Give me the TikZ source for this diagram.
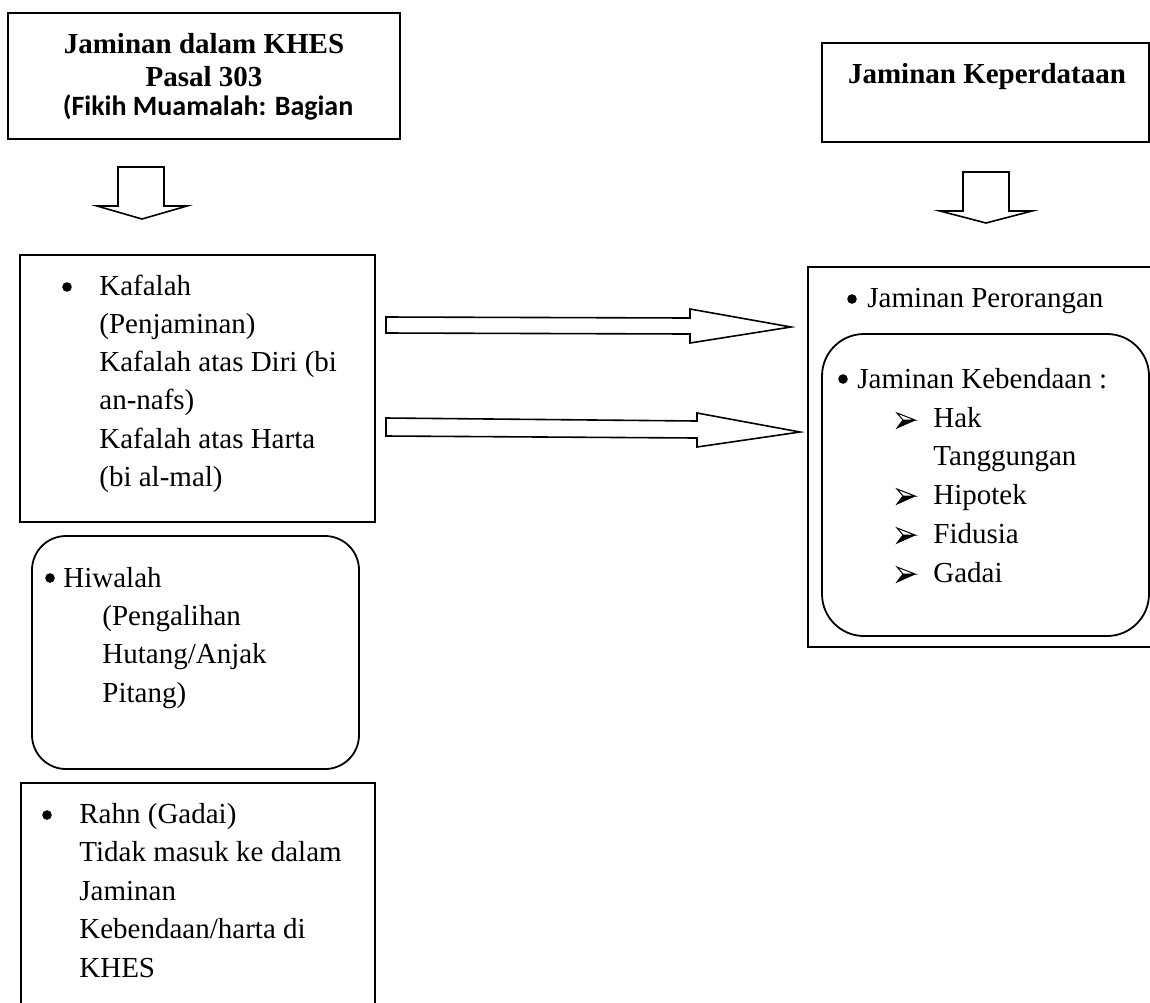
\documentclass[tikz,border=0pt]{standalone}
\usepackage{fontspec}
\setmainfont{Liberation Serif}
\newfontfamily\calfont{Carlito}
\begin{document}
\begin{tikzpicture}[x=0.5pt,y=-0.5pt,
  font=\fontsize{14.5}{17}\selectfont,
  box/.style={line width=0.9pt},
  rbox/.style={line width=0.9pt, rounded corners=17pt},
  bigrbox/.style={line width=0.9pt, rounded corners=21pt},
  blk/.style={line width=0.8pt, line join=miter, fill=white},
  txt/.style={anchor=base west, inner sep=0pt},
  head/.style={anchor=base, inner sep=0pt, font=\fontsize{14.5}{17}\selectfont\bfseries},
  dotr/.style={fill=black},
  arrowb/.pic={
    \draw[line width=0.5pt, line join=miter] (0,0) -- (-18,-7) -- (-12,0) -- cycle;
    \fill (0,0) -- (-12,0) -- (-18,8) -- cycle;
    \draw[line width=0.5pt] (0,0) -- (-18,8) -- (-12,0);
  }]
\useasboundingbox (0,0) rectangle (1150,1002);
\clip (0,0) rectangle (1150,1002);

% ---------- top left box ----------
\draw[box] (8,13) rectangle (400,139);
\node[head] (h1) at (204,53) {Jaminan dalam KHES};
\node[head] (h2) at (204,86) {Pasal 303};
\node[anchor=base, inner sep=0pt, font=\calfont\fontsize{14}{17}\selectfont\bfseries] (h3) at (208,115) {(Fikih Muamalah: Bagian};

% ---------- top right box ----------
\draw[box] (822,43) rectangle (1149,142);
\node[head] (r1) at (987,83) {Jaminan Keperdataan};

% ---------- down arrows ----------
\draw[blk] (118,167) -- (164,167) -- (164,206) -- (187,206) -- (142,219) -- (97,206) -- (118,206) -- cycle;
\draw[blk] (963,172) -- (1009,172) -- (1009,211) -- (1032,211) -- (986,223) -- (940,211) -- (963,211) -- cycle;

% ---------- Kafalah box ----------
\draw[box] (20,255) rectangle (375,522);
\fill[dotr] (67,287) circle (4.8);
\node[txt] (k1) at (99,295) {Kafalah};
\node[txt] (k2) at (99,333.3) {(Penjaminan)};
\node[txt] (k3) at (99,371.6) {Kafalah atas Diri (bi};
\node[txt] (k4) at (99,409.9) {an-nafs)};
\node[txt] (k5) at (99,448.2) {Kafalah atas Harta};
\node[txt] (k6) at (99,486.5) {(bi al-mal)};

% ---------- horizontal arrows ----------
\draw[blk] (386,317) -- (690,318) -- (690,309) -- (791,327) -- (690,343) -- (690,334) -- (386,333) -- cycle;
\draw[blk] (386,418) -- (697,421) -- (697,413) -- (800,432) -- (697,447) -- (697,438) -- (386,436) -- cycle;

% ---------- Hiwalah box ----------
\draw[rbox] (32,536) rectangle (359,769);
\fill[dotr] (50,578) circle (4.8);
\node[txt] (w1) at (63,587) {Hiwalah};
\node[txt] (w2) at (102,625) {(Pengalihan};
\node[txt] (w3) at (102,663.5) {Hutang/Anjak};
\node[txt] (w4) at (102,702) {Pitang)};

% ---------- Rahn box ----------
\draw[box] (21,1012) -- (21,783) -- (375,783) -- (375,1012);
\fill[dotr] (47,815) circle (4.8);
\node[txt] (g1) at (79,823) {Rahn (Gadai)};
\node[txt] (g2) at (79,861.5) {Tidak masuk ke dalam};
\node[txt] (g3) at (79,900) {Jaminan};
\node[txt] (g4) at (79,938.5) {Kebendaan/harta di};
\node[txt] (g5) at (79,977) {KHES};

% ---------- right big box ----------
\draw[box] (1160,267) -- (808,267) -- (808,647) -- (1160,647);
\fill[dotr] (852,299) circle (4.8);
\node[txt] (p1) at (867,307) {Jaminan Perorangan};

\draw[bigrbox] (822,334) rectangle (1149,636);
\fill[dotr] (843,379) circle (4.8);
\node[txt] (b0) at (857,388) {Jaminan Kebendaan :};
\pic at (915,420) {arrowb};
\node[txt] (b1) at (933,427) {Hak};
\node[txt] (b1b) at (933,465.5) {Tanggungan};
\pic at (915,496) {arrowb};
\node[txt] (b2) at (933,504) {Hipotek};
\pic at (915,535) {arrowb};
\node[txt] (b3) at (933,543) {Fidusia};
\pic at (915,574) {arrowb};
\node[txt] (b4) at (933,582) {Gadai};
\end{tikzpicture}
\end{document}
